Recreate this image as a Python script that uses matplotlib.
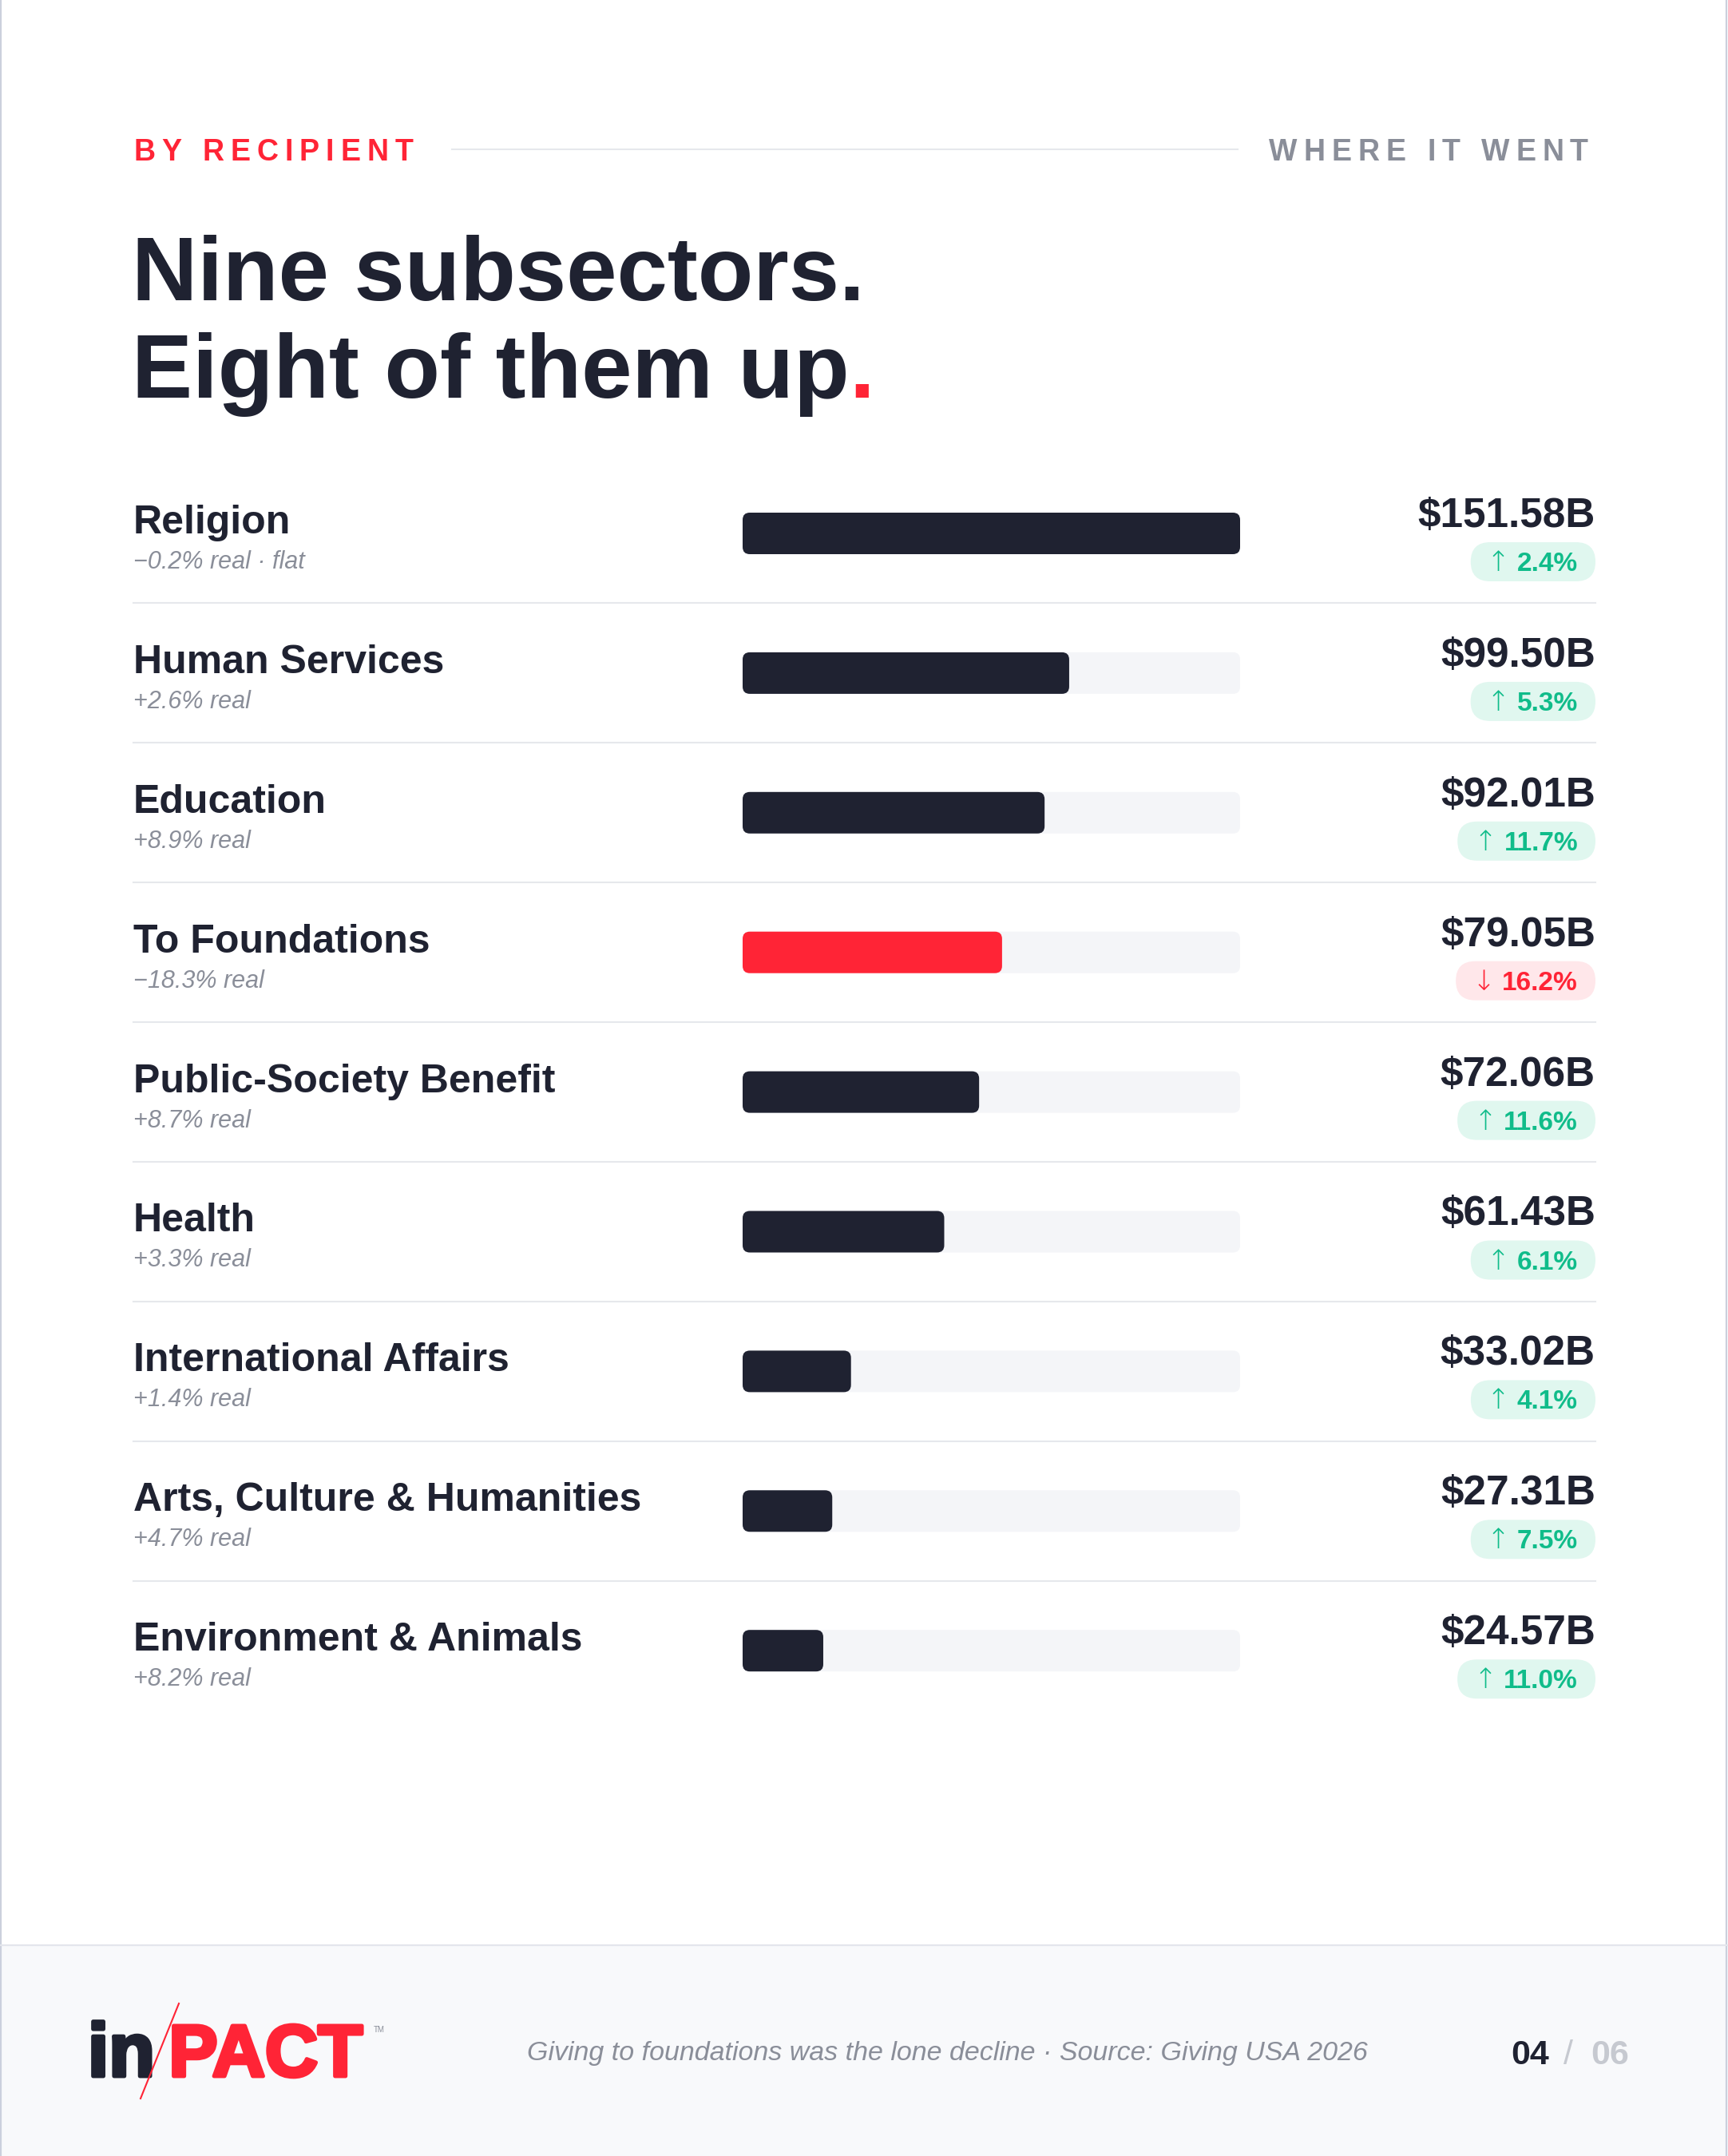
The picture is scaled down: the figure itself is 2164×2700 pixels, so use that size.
import matplotlib.pyplot as plt
import matplotlib.patheffects as pe
from matplotlib.patches import FancyBboxPatch, Rectangle
from matplotlib.font_manager import FontProperties

# ---- data -------------------------------------------------------------------
names = ["Religion", "Human Services", "Education", "To Foundations",
         "Public-Society Benefit", "Health", "International Affairs",
         "Arts, Culture & Humanities", "Environment & Animals"]
subs = ["\u22120.2% real \u00b7 flat", "+2.6% real", "+8.9% real", "\u221218.3% real",
        "+8.7% real", "+3.3% real", "+1.4% real", "+4.7% real", "+8.2% real"]
values = [151.58, 99.50, 92.01, 79.05, 72.06, 61.43, 33.02, 27.31, 24.57]
changes = [2.4, 5.3, 11.7, -16.2, 11.6, 6.1, 4.1, 7.5, 11.0]
highlight = "To Foundations"

# ---- style ------------------------------------------------------------------
W, H = 2164, 2700
FAM = ['Liberation Sans', 'DejaVu Sans']
plt.rcParams['font.family'] = FAM

NAVY = '#1F2231'
RED = '#FF2436'
GRAY = '#8A8E99'
TRACK = '#F4F5F8'
SEP = '#E6E8EC'
GREEN = '#10BC8A'
GREEN_BG = '#E0F7EF'
RED_BG = '#FFE7EA'

LEFT, RIGHT = 167, 1998
ROW0, PITCH = 668, 174.9
BAR_L, BAR_R = 930, 1553
BAR_H = 52
RADIUS = 9

fig = plt.figure(figsize=(W / 100, H / 100), dpi=100)
fig.patch.set_facecolor('white')
ax = fig.add_axes([0, 0, 1, 1])
ax.set_xlim(0, W)
ax.set_ylim(H, 0)
ax.axis('off')
renderer = fig.canvas.get_renderer()


def text_w(s, size, weight='normal', style='normal', family=FAM):
    fp = FontProperties(family=family, size=size, weight=weight, style=style)
    w, h, d = renderer.get_text_width_height_descent(s, fp, ismath=False)
    return w


def advance(c, size, weight='normal', style='normal'):
    return text_w('|' + c + '|', size, weight, style) - text_w('||', size, weight, style)


def tracked(x, y, s, size, tracking, color, weight='bold', align='left'):
    advs = [advance(c, size, weight) for c in s]
    total = sum(advs) + tracking * (len(s) - 1)
    if align == 'right':
        x = x - total
    for c, a in zip(s, advs):
        if c != ' ':
            ax.text(x + a / 2, y, c, ha='center', va='baseline', size=size,
                    weight=weight, color=color)
        x += a + tracking
    return x


# page edges
ax.plot([1, 1], [0, H], color='#CBD0DD', lw=1.6, solid_capstyle='butt')
ax.plot([W - 2, W - 2], [0, H], color='#CBD0DD', lw=1.6, solid_capstyle='butt')

# ---- header -----------------------------------------------------------------
tracked(LEFT, 201, "BY RECIPIENT", 27, 8, RED)
tracked(1989, 201, "WHERE IT WENT", 27, 8, GRAY, align='right')
ax.plot([566, 1550], [187, 187], color=SEP, lw=1.5)

ax.text(LEFT - 2, 376, "Nine subsectors.", size=82, weight='bold', color=NAVY, va='baseline')
line2 = "Eight of them up"
ax.text(LEFT - 2, 498, line2, size=82, weight='bold', color=NAVY, va='baseline')
w2 = text_w(line2 + '|', 82, 'bold') - text_w('|', 82, 'bold')
ax.text(LEFT - 2 + w2, 498, ".", size=82, weight='bold', color=RED, va='baseline')

# ---- bars -------------------------------------------------------------------
n = len(values)
vmax = max(values)
bx = fig.add_axes([BAR_L / W, 1 - (ROW0 + (n - 0.5) * PITCH) / H,
                   (BAR_R - BAR_L) / W, n * PITCH / H])
bx.set_xlim(0, vmax)
bx.set_ylim(n - 0.5, -0.5)
bx.axis('off')
bx.patch.set_alpha(0)

x_per_px = vmax / (BAR_R - BAR_L)
y_per_px = 1.0 / PITCH
bh = BAR_H * y_per_px
style = "round,pad=0,rounding_size=%f" % (RADIUS * x_per_px)
aspect = y_per_px / x_per_px

for i, v in enumerate(values):
    bx.add_patch(FancyBboxPatch((0, i - bh / 2), vmax, bh, boxstyle=style,
                                mutation_aspect=aspect, fc=TRACK, ec='none'))
    col = RED if names[i] == highlight else NAVY
    bx.add_patch(FancyBboxPatch((0, i - bh / 2), v, bh, boxstyle=style,
                                mutation_aspect=aspect, fc=col, ec='none'))

# ---- row text ---------------------------------------------------------------
ARROW_FAM = ['DejaVu Sans']
for i in range(n):
    yc = ROW0 + i * PITCH
    ax.text(LEFT, yc, names[i], size=36, weight='bold', color=NAVY, va='baseline')
    ax.text(LEFT, yc + 44, subs[i], size=22, style='italic', color=GRAY, va='baseline')
    ax.text(RIGHT, yc - 8, "$%.2fB" % values[i], size=37, weight='bold',
            color=NAVY, ha='right', va='baseline')

    up = changes[i] >= 0
    arrow = "\u2191" if up else "\u2193"
    num = "%.1f%%" % abs(changes[i])
    fg, bg = (GREEN, GREEN_BG) if up else (RED, RED_BG)
    aw = text_w(arrow, 25, family=ARROW_FAM)
    nw = text_w(num, 24, 'bold')
    pad, gap = 20, 9
    total = pad + aw + gap + nw + pad + 2
    x0 = RIGHT - total
    ax.add_patch(FancyBboxPatch((x0, yc + 11), total, 49,
                                boxstyle="round,pad=0,rounding_size=24.5",
                                fc=bg, ec='none'))
    ax.text(x0 + pad, yc + 37, arrow, size=25, family=ARROW_FAM, weight='light',
            color=fg, ha='left', va='center')
    ax.text(RIGHT - pad - 2, yc + 47, num, size=24, weight='bold', color=fg,
            ha='right', va='baseline')

    if i < n - 1:
        ax.plot([LEFT, RIGHT], [yc + PITCH / 2] * 2, color=SEP, lw=1.5)

# ---- footer -----------------------------------------------------------------
ax.add_patch(Rectangle((0, 2436), W, H - 2436, fc='#F8F9FB', ec='none'))
ax.plot([0, W], [2436, 2436], color='#E4E6EC', lw=1.6)

thick_navy = [pe.withStroke(linewidth=3.5, foreground=NAVY)]
thick_red = [pe.withStroke(linewidth=3.5, foreground=RED)]
ax.text(194, 2600, "in", size=68, weight='bold', color=NAVY, ha='right',
        va='baseline', path_effects=thick_navy)
ax.text(454, 2600, "PACT", size=66, weight='bold', color=RED, ha='right',
        va='baseline', zorder=3, path_effects=thick_red)
ax.plot([224, 176], [2509, 2628], color=RED, lw=1.5, zorder=4)
ax.text(468, 2545, "TM", size=7, color=GRAY, va='baseline')

ax.text(1713, 2580, "Giving to foundations was the lone decline \u00b7 Source: Giving USA 2026",
        size=24.5, style='italic', color=GRAY, ha='right', va='baseline')

ax.text(2040, 2585, "06", size=31, weight='bold', color='#C6C9D0', ha='right', va='baseline')
ax.text(1964, 2585, "/", size=31, color='#C6C9D0', ha='center', va='baseline')
ax.text(1940, 2585, "04", size=31, weight='bold', color=NAVY, ha='right', va='baseline')

fig.savefig('out.png', dpi=100, facecolor='white')
